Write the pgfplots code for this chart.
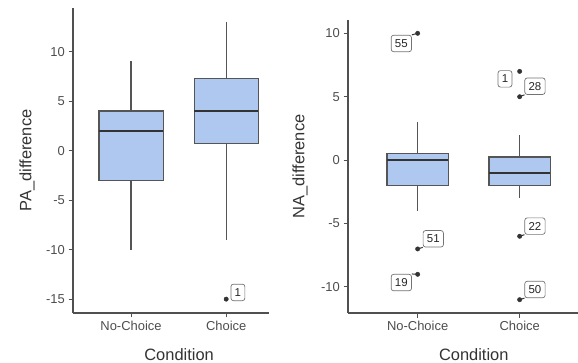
\documentclass[border=0pt]{standalone}
\usepackage{fontspec}
\setmainfont{Liberation Sans}
\usepackage{pgfplots}
\pgfplotsset{compat=1.18}
\usepgfplotslibrary{statistics}
\definecolor{boxfill}{RGB}{174,200,240}
\definecolor{boxdraw}{RGB}{85,85,85}
\definecolor{axisgray}{RGB}{80,80,80}
\definecolor{ticktext}{RGB}{77,77,77}
\definecolor{titletext}{RGB}{51,51,51}
\definecolor{ptcol}{RGB}{51,51,51}
\tikzset{
  lbl/.style={draw=black!55, fill=white, rounded corners=2.5bp, line width=0.7bp,
    font=\fontsize{11.5}{13}\selectfont, text=black!85, inner xsep=3.8bp, inner ysep=0bp,
    minimum height=16.5bp, minimum width=12bp},
  seg/.style={draw=ptcol, line width=1bp},
}
\pgfplotsset{
  jstyle/.style={
    scale only axis,
    anchor=south west,
    clip=false,
    axis x line*=bottom,
    axis y line*=left,
    axis line style={draw=axisgray, line width=1.1bp},
    tick style={draw=axisgray, line width=1bp},
    tick align=outside,
    major tick length=4.5bp,
    xtick={1,2},
    xticklabels={No-Choice,Choice},
    xtick pos=bottom, ytick pos=left,
    tick label style={font=\fontsize{13}{15}\selectfont, text=ticktext},
    xticklabel style={inner sep=1bp, yshift=-2bp},
    yticklabel style={inner sep=1.5bp, xshift=-2bp},
    label style={font=\fontsize{16.5}{19}\selectfont, text=titletext},
    boxplot/draw direction=y,
  },
  bx/.style={draw=boxdraw, fill=boxfill, line width=1.2bp, solid,
    boxplot/every whisker/.style={draw=boxdraw, line width=1.2bp},
    boxplot/every box/.style={draw=boxdraw, fill=boxfill, line width=1.2bp},
    boxplot/every median/.style={draw=black!80, line width=2.2bp}},
}
\begin{document}
\begin{tikzpicture}
\useasboundingbox (0,0) rectangle (578bp,363bp);
% Left panel
\begin{axis}[jstyle,
  at={(73bp,50bp)}, width=196bp, height=305bp,
  xmin=0.39, xmax=2.45, ymin=-16.4, ymax=14.4,
  ytick={-15,-10,-5,0,5,10},
  yticklabels={-15,-10,-5,0,5,10},
  ylabel={PA\_difference},
  ylabel style={at={(axis description cs:-0.235,0.5)}, anchor=center},
  xlabel={Condition},
  xlabel style={at={(axis cs:1.505,-16.4)}, anchor=base, yshift=-47bp},
]
\addplot[bx, boxplot prepared={median=2, upper quartile=4, lower quartile=-3,
  upper whisker=9, lower whisker=-10, draw position=1, box extend=0.674, whisker extend=0}]
  coordinates {};
\addplot[bx, boxplot prepared={median=4, upper quartile=7.25, lower quartile=0.75,
  upper whisker=13, lower whisker=-9, draw position=2, box extend=0.674, whisker extend=0}]
  coordinates {};
\addplot[only marks, mark=*, mark size=2.2bp, color=ptcol] coordinates {(2,-15)};
\node[lbl] at (axis cs:2.123,-14.32) {1};
\end{axis}
% Right panel
\begin{axis}[jstyle,
  at={(348bp,50bp)}, width=230bp, height=293bp,
  xmin=0.317, xmax=2.572, ymin=-12.05, ymax=11.05,
  ytick={-10,-5,0,5,10},
  yticklabels={-10,-5,0,5,10},
  ylabel={NA\_difference},
  ylabel style={at={(axis description cs:-0.209,0.5)}, anchor=center},
  xlabel={Condition},
  xlabel style={at={(axis cs:1.55,-12.05)}, anchor=base, yshift=-47bp},
]
\addplot[bx, boxplot prepared={median=0, upper quartile=0.5, lower quartile=-2,
  upper whisker=3, lower whisker=-4, draw position=1, box extend=0.6, whisker extend=0}]
  coordinates {};
\addplot[bx, boxplot prepared={median=-1, upper quartile=0.25, lower quartile=-2,
  upper whisker=2, lower whisker=-3, draw position=2, box extend=0.6, whisker extend=0}]
  coordinates {};
\addplot[only marks, mark=*, mark size=2.2bp, color=ptcol] coordinates {
  (1,10) (1,-7) (1,-9) (2,7) (2,5) (2,-6) (2,-11)};
\node[lbl] (n55) at (axis cs:0.84,9.2) {55};
\draw[seg] (axis cs:1,10) -- (n55.north east);
\node[lbl] (n1) at (axis cs:1.856,6.41) {1};
\node[lbl] (n28) at (axis cs:2.15,5.83) {28};
\draw[seg] (axis cs:2,5) -- (n28.south west);
\node[lbl] (n51) at (axis cs:1.153,-6.2) {51};
\draw[seg] (axis cs:1,-7) -- (n51.south west);
\node[lbl] (n19) at (axis cs:0.84,-9.65) {19};
\draw[seg] (axis cs:1,-9) -- (n19.north east);
\node[lbl] (n22) at (axis cs:2.15,-5.2) {22};
\draw[seg] (axis cs:2,-6) -- (n22.south west);
\node[lbl] (n50) at (axis cs:2.15,-10.2) {50};
\draw[seg] (axis cs:2,-11) -- (n50.south west);
\end{axis}
\end{tikzpicture}
\end{document}
